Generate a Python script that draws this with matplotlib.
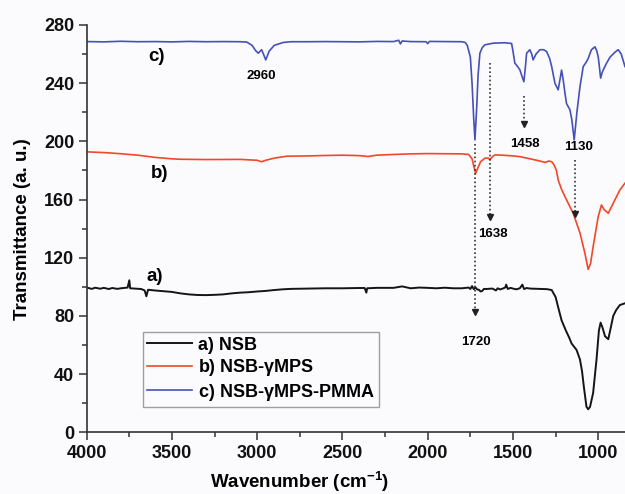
import matplotlib
matplotlib.use("Agg")
import matplotlib.pyplot as plt
from matplotlib.ticker import MultipleLocator

plt.rcParams['font.family'] = ['Liberation Sans', 'DejaVu Sans']
plt.rcParams['font.weight'] = 'bold'
plt.rcParams['mathtext.fontset'] = 'custom'
plt.rcParams['mathtext.rm'] = 'Liberation Sans:bold'
plt.rcParams['mathtext.bf'] = 'Liberation Sans:bold'
plt.rcParams['mathtext.default'] = 'rm'

# a) NSB  (wavenumber, transmittance)
nsb_wn = [4000, 3970, 3950, 3920, 3900, 3870, 3850, 3820, 3800, 3760, 3750, 3745, 3720,
          3680, 3660, 3650, 3640, 3600, 3550, 3500, 3450, 3400, 3350, 3300, 3250, 3200,
          3150, 3100, 3050, 3000, 2950, 2900, 2850, 2800, 2700, 2600, 2500, 2400, 2370,
          2360, 2355, 2300, 2200, 2150, 2100, 2050, 2000, 1950, 1900, 1850, 1800, 1760,
          1750, 1740, 1730, 1720, 1710, 1700, 1690, 1680, 1670, 1660, 1620, 1600, 1590,
          1575, 1560, 1545, 1540, 1530, 1515, 1500, 1480, 1460, 1445, 1435, 1420, 1400,
          1350, 1300, 1273, 1250, 1235, 1215, 1190, 1170, 1156, 1127, 1107, 1095, 1084,
          1069, 1059, 1048, 1030, 1010, 996, 986, 975, 960, 941, 930, 912, 895, 873, 860, 843]
nsb_t = [99.5, 98.6, 99.4, 98.7, 99.3, 98.5, 99.2, 98.6, 99.0, 99.5, 104.5, 99.0, 98.8,
         98.5, 97.5, 93.5, 98.0, 97.5, 97.0, 96.5, 95.5, 94.8, 94.4, 94.3, 94.5, 94.8,
         95.5, 96.0, 96.3, 96.8, 97.2, 97.8, 98.3, 98.6, 98.8, 99.0, 99.0, 99.2, 99.2,
         96.0, 99.0, 99.3, 99.3, 100.3, 99.0, 99.5, 99.3, 99.0, 99.4, 99.0, 99.0, 99.5,
         98.5, 100.5, 98.4, 99.6, 98.2, 98.0, 96.8, 97.2, 98.6, 98.5, 98.8, 97.5, 99.0,
         98.2, 98.8, 99.6, 101.5, 98.5, 99.3, 98.8, 98.3, 99.0, 101.5, 98.5, 99.2, 98.8,
         98.6, 98.4, 97.8, 93.0, 86.0, 77.0, 70.0, 65.0, 61.0, 56.6, 50.0, 42.0, 31.0,
         17.6, 15.8, 17.5, 27.0, 50.0, 70.0, 75.4, 72.0, 66.0, 64.0, 70.0, 80.0, 84.0,
         87.5, 88.0, 88.7]

# b) NSB-gMPS
mps_wn = [4000, 3900, 3800, 3700, 3600, 3500, 3450, 3300, 3100, 3000, 2975, 2950, 2900,
          2827, 2700, 2600, 2500, 2400, 2350, 2300, 2200, 2100, 2000, 1900, 1800, 1760,
          1740, 1730, 1719, 1705, 1690, 1664, 1645, 1635, 1620, 1606, 1560, 1500, 1459,
          1420, 1380, 1342, 1310, 1290, 1273, 1260, 1245, 1235, 1215, 1195, 1170, 1147,
          1107, 1078, 1059, 1045, 1030, 1000, 981, 965, 941, 912, 873, 843]
mps_t = [192.8, 192.3, 191.5, 190.5, 189.0, 188.0, 187.7, 187.5, 187.6, 187.0, 186.0,
         187.0, 188.5, 189.8, 190.0, 190.3, 190.5, 190.2, 189.6, 190.5, 191.0, 191.4,
         191.6, 191.5, 191.4, 191.0, 188.0, 183.0, 178.0, 182.0, 186.0, 188.5, 188.5,
         187.3, 189.5, 190.7, 190.5, 190.0, 189.5, 188.5, 187.5, 186.5, 185.5, 186.5,
         186.0, 184.0, 180.0, 173.5, 167.0, 162.0, 156.0, 150.6, 137.0, 123.0, 112.0,
         116.0, 127.6, 148.3, 156.3, 153.0, 150.6, 157.5, 166.6, 171.3]

# c) NSB-gMPS-PMMA
pmma_wn = [4000, 3900, 3800, 3700, 3600, 3500, 3400, 3300, 3200, 3100, 3062, 3030, 3010,
           2994, 2974, 2960, 2950, 2930, 2900, 2847, 2800, 2700, 2600, 2500, 2400, 2300,
           2200, 2170, 2160, 2150, 2100, 2010, 2000, 1990, 1900, 1800, 1780, 1768, 1750,
           1740, 1730, 1723, 1712, 1705, 1694, 1680, 1664, 1616, 1550, 1508, 1500, 1489,
           1470, 1459, 1445, 1436, 1428, 1420, 1401, 1390, 1382, 1365, 1342, 1320, 1303,
           1285, 1273, 1254, 1235, 1225, 1215, 1205, 1195, 1186, 1166, 1155, 1141, 1125,
           1107, 1088, 1070, 1059, 1040, 1019, 1008, 1000, 992, 986, 975, 951, 930, 900,
           883, 865, 843]
pmma_t = [268.6, 268.4, 268.8, 268.5, 268.6, 268.4, 268.7, 268.5, 268.6, 268.5, 268.3,
          266.0, 262.5, 260.6, 263.0, 259.0, 256.0, 262.0, 266.0, 268.0, 268.5, 268.5,
          268.6, 268.5, 268.4, 268.7, 268.6, 269.5, 267.0, 269.0, 268.6, 268.5, 267.2,
          268.7, 268.6, 268.5, 268.0, 266.0, 258.0, 240.0, 215.0, 201.0, 225.0, 245.0,
          260.6, 264.5, 266.4, 267.5, 267.8, 267.3, 262.0, 253.8, 251.0, 249.0, 244.0,
          241.0, 250.0, 260.6, 263.0, 260.0, 256.0, 260.0, 263.0, 263.0, 261.8, 257.0,
          251.4, 240.0, 235.4, 242.0, 249.0, 242.0, 233.0, 226.0, 221.7, 215.0, 201.0,
          220.0, 237.7, 251.4, 254.5, 257.0, 263.0, 265.0, 262.0, 258.0, 250.0, 243.5,
          248.0, 253.8, 258.0, 261.5, 263.0, 260.0, 251.4]

series_labels = ['a) NSB', r'b) NSB-$\gamma$MPS', r'c) NSB-$\gamma$MPS-PMMA']
series_colors = ['#151515', '#f04828', '#4650b8']

# curve tags (text, x, y)
tag_text = ['a)', 'b)', 'c)']
tag_x = [3600, 3570, 3590]
tag_y = [107, 178, 258]

# peak arrows: label, arrow x, arrow top, arrow tip, label x, label y
peak_text = ['1720', '1638', '1458', '1130']
peak_x = [1721, 1635, 1436, 1137]
peak_top = [198, 254, 231, 187]
peak_tip = [80, 145, 209, 147]
peak_lx = [1720, 1616, 1430, 1113]
peak_ly = [62, 136, 198, 196]

bg = '#fbfbfd'
fig = plt.figure(figsize=(6.25, 4.94), dpi=100, facecolor=bg)
ax = fig.add_axes([0.1387, 0.1249, 0.8613, 0.8245], facecolor=bg)

widths = [1.4, 1.2, 1.2]
for wn, t, lab, col, lw in zip([nsb_wn, mps_wn, pmma_wn], [nsb_t, mps_t, pmma_t],
                               series_labels, series_colors, widths):
    ax.plot(wn, t, color=col, lw=lw, label=lab)

for txt, x, y in zip(tag_text, tag_x, tag_y):
    ax.text(x, y, txt, fontsize=13.5, fontweight='bold', ha='center', va='center')

ax.text(2974, 244.6, '2960', fontsize=9.5, fontweight='bold', ha='center', va='center')
for txt, x, top, tip, lx, ly in zip(peak_text, peak_x, peak_top, peak_tip, peak_lx, peak_ly):
    ax.plot([x, x], [top, tip + 3], color='#333333', lw=1.2, ls=(0, (1, 1.5)))
    ax.plot([x], [tip + 3], marker='v', ms=5, color='#222222', mec='#222222')
    ax.text(lx, ly, txt, fontsize=9.5, fontweight='bold', ha='center', va='center')

ax.set_xlim(4000, 843)
ax.set_ylim(0, 280)
ax.xaxis.set_major_locator(MultipleLocator(500))
ax.xaxis.set_minor_locator(MultipleLocator(250))
ax.yaxis.set_major_locator(MultipleLocator(40))
ax.yaxis.set_minor_locator(MultipleLocator(20))
ax.tick_params(which='major', length=6, width=1.1, labelsize=13, pad=3, colors='#333333',
               labelcolor='#111111')
ax.tick_params(which='minor', length=3.5, width=1.1, colors='#333333')
for lab in ax.get_xticklabels() + ax.get_yticklabels():
    lab.set_fontweight('bold')

for s in ['top', 'right']:
    ax.spines[s].set_visible(False)
for s in ['left', 'bottom']:
    ax.spines[s].set_color('#333333')
    ax.spines[s].set_linewidth(1.2)

ax.set_xlabel(r'Wavenumber (cm$^{-1}$)', fontsize=13.5, fontweight='bold')
ax.xaxis.set_label_coords(0.396, -0.092)
ax.set_ylabel('Transmittance (a. u.)', fontsize=13.5, fontweight='bold')
ax.yaxis.set_label_coords(-0.103, 0.5)

leg = ax.legend(loc='lower left', bbox_to_anchor=(0.104, 0.0615), borderaxespad=0,
                fontsize=13, frameon=True, fancybox=False, handlelength=2.5,
                handletextpad=0.3, labelspacing=0.2, borderpad=0.25)
leg.get_frame().set_edgecolor('#888888')
leg.get_frame().set_linewidth(1.0)
leg.get_frame().set_facecolor(bg)
for t in leg.get_texts():
    t.set_fontweight('bold')

fig.savefig('out.png', dpi=100, facecolor=bg)
